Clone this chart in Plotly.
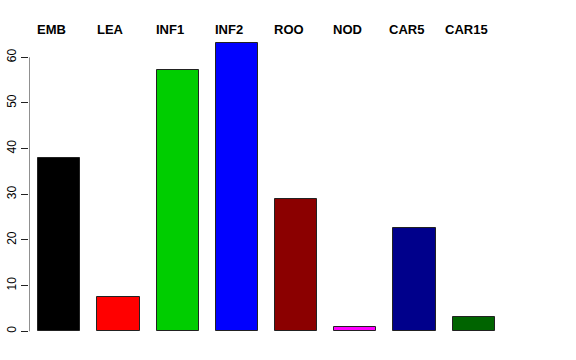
import plotly.graph_objects as go

categories = ["EMB", "LEA", "INF1", "INF2", "ROO", "NOD", "CAR5", "CAR15"]
values = [37.9, 7.55, 57.2, 63.2, 29.0, 0.85, 22.55, 3.1]
colors = ["#000000", "#FF0000", "#00CD00", "#0000FF", "#8B0000", "#FF00FF", "#00008B", "#006400"]
y_ticks = [0, 10, 20, 30, 40, 50, 60]

xpos = list(range(len(categories)))
X_MIN, X_MAX = -0.512, 8.255

fig = go.Figure()
fig.add_trace(go.Bar(
    x=xpos, y=values, width=0.71,
    marker=dict(color=colors, line=dict(color="#222222", width=1)),
    showlegend=False, hoverinfo="skip",
))

# R-style axis line from 0 to 60 only
fig.add_trace(go.Scatter(x=[X_MIN, X_MIN], y=[y_ticks[0], y_ticks[-1]], mode="lines",
                         line=dict(color="#222222", width=1), cliponaxis=False,
                         showlegend=False, hoverinfo="skip"))

for i, c in enumerate(categories):
    fig.add_annotation(x=xpos[i], y=1.0045, xref="x", yref="paper", text="<b>%s</b>" % c,
                       showarrow=False, xshift=-7.6, yanchor="middle",
                       font=dict(family="Liberation Sans, Arial, sans-serif", size=13, color="#000000"))

fig.update_layout(
    width=576, height=360,
    margin=dict(l=29, r=28, t=31, b=17),
    plot_bgcolor="white", paper_bgcolor="white",
    bargap=0,
    xaxis=dict(range=[X_MIN, X_MAX], showticklabels=False, showgrid=False,
               zeroline=False, showline=False, ticks="", automargin=False),
    yaxis=dict(range=[-2.56, 65.76], tickvals=y_ticks, ticktext=[str(v) for v in y_ticks],
               ticks="outside", ticklen=7, tickcolor="#222222", tickwidth=1,
               tickangle=-90, showgrid=False, zeroline=False, showline=False, automargin=False,
               tickfont=dict(family="Liberation Sans, Arial, sans-serif", size=12, color="#000000")),
)

fig.write_html("out.html")
